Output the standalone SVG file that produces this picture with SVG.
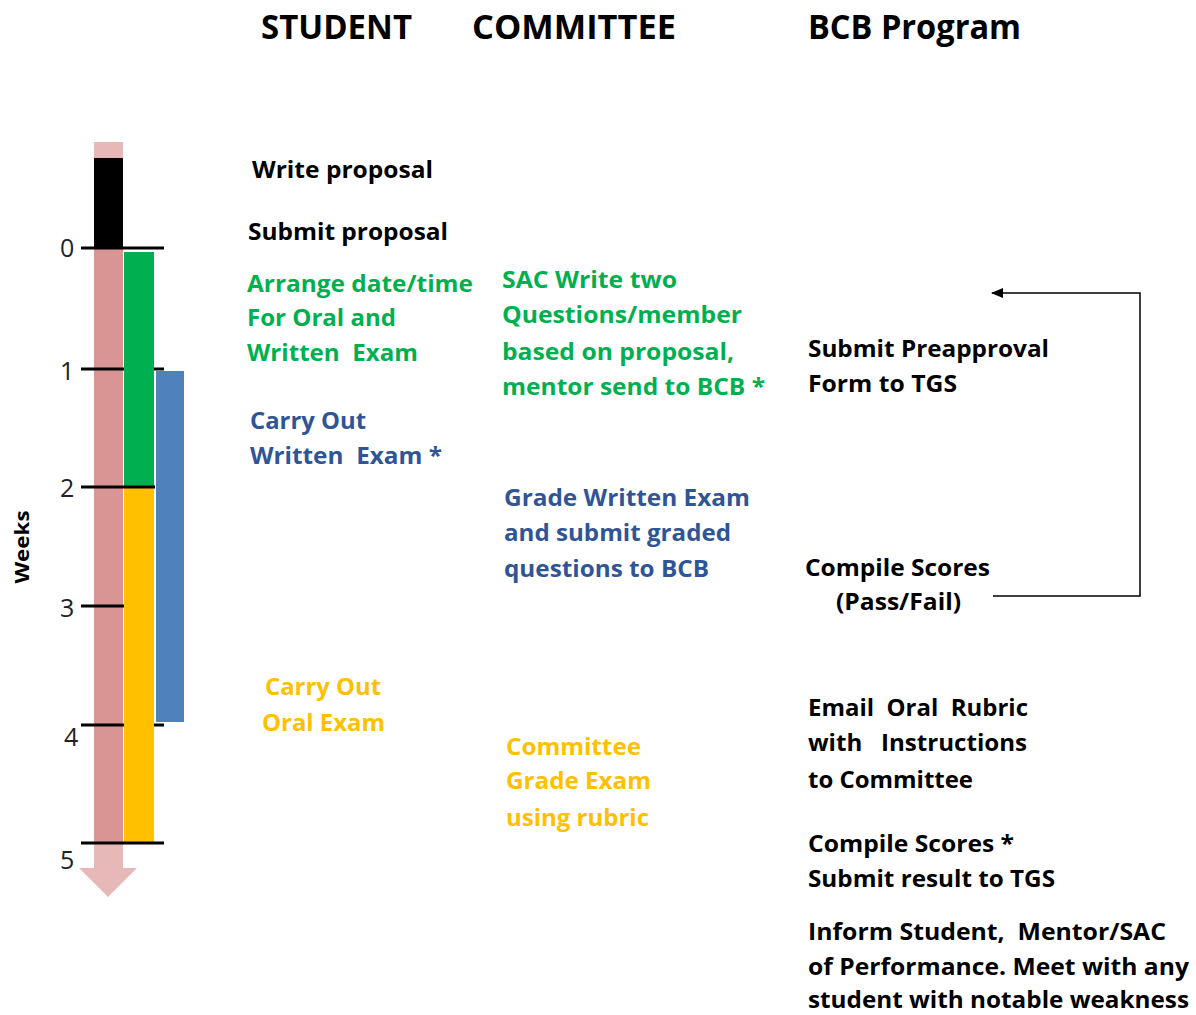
<svg xmlns="http://www.w3.org/2000/svg" width="1196" height="1015" viewBox="0 0 1196 1015">
<style>
text{font-family:"Open Sans","Liberation Sans",sans-serif;font-weight:bold;white-space:pre}
.h{font-size:34px}
.t{font-size:23.5px}
.k{fill:#000}
.g{fill:#00B050}
.b{fill:#2F5597}
.y{fill:#FFC000}
.num{font-weight:normal;font-size:25px;fill:#222}
.tick{stroke:#000;stroke-width:3}
</style>
<defs>
<marker id="ah" markerWidth="12" markerHeight="10" refX="11" refY="5" orient="auto" markerUnits="userSpaceOnUse">
<path d="M0,0 L12,5 L0,10 z" fill="#000"/>
</marker>
</defs>
<rect width="1196" height="1015" fill="#fff"/>
<g id="headers">
<text class="h k" x="261" y="39" textLength="151" lengthAdjust="spacingAndGlyphs">STUDENT</text>
<text class="h k" x="472" y="39" textLength="204" lengthAdjust="spacingAndGlyphs">COMMITTEE</text>
<text class="h k" x="808" y="39" textLength="213" lengthAdjust="spacingAndGlyphs">BCB Program</text>
</g>
<g id="timeline">
<rect x="94" y="142" width="29" height="726" fill="#E6B8B7"/>
<path d="M79,868 H137 L108,897 Z" fill="#E6B8B7"/>
<rect x="94" y="248" width="29" height="595" fill="#D99594"/>
<rect x="94" y="158" width="29" height="90" fill="#000"/>
<rect x="124" y="252" width="30" height="235" fill="#00B050"/>
<rect x="124" y="487" width="30" height="356" fill="#FFC000"/>
<rect x="156" y="371" width="28" height="351" fill="#4F81BD"/>
<line class="tick" x1="81" y1="248" x2="164" y2="248"/>
<line class="tick" x1="81" y1="369" x2="124" y2="369"/>
<line class="tick" x1="154" y1="369" x2="164" y2="369"/>
<line class="tick" x1="81" y1="487" x2="155" y2="487"/>
<line class="tick" x1="81" y1="606" x2="124" y2="606"/>
<line class="tick" x1="81" y1="725" x2="124" y2="725"/>
<line class="tick" x1="154" y1="725" x2="164" y2="725"/>
<line class="tick" x1="81" y1="843" x2="164" y2="843"/>
<text class="num" x="60" y="257">0</text>
<text class="num" x="60" y="380">1</text>
<text class="num" x="60" y="497">2</text>
<text class="num" x="60" y="617">3</text>
<text class="num" x="64" y="746">4</text>
<text class="num" x="60" y="869">5</text>
<text x="0" y="0" font-size="20" fill="#000" transform="translate(29,547) rotate(-90)" text-anchor="middle" textLength="73" lengthAdjust="spacingAndGlyphs">Weeks</text>
</g>
<g id="student">
<g id="n-write-proposal"><text class="t k" x="252" y="178" textLength="181" lengthAdjust="spacingAndGlyphs">Write proposal</text></g>
<g id="n-submit-proposal"><text class="t k" x="248" y="240" textLength="200" lengthAdjust="spacingAndGlyphs">Submit proposal</text></g>
<g id="n-arrange">
<text class="t g" x="247" y="292" textLength="226" lengthAdjust="spacingAndGlyphs">Arrange date/time</text>
<text class="t g" x="247" y="326" textLength="149" lengthAdjust="spacingAndGlyphs">For Oral and</text>
<text class="t g" x="247" y="361" textLength="171" lengthAdjust="spacingAndGlyphs">Written  Exam</text>
</g>
<g id="n-written-exam">
<text class="t b" x="250" y="429" textLength="116" lengthAdjust="spacingAndGlyphs">Carry Out</text>
<text class="t b" x="250" y="464" textLength="192" lengthAdjust="spacingAndGlyphs">Written  Exam *</text>
</g>
<g id="n-oral-exam">
<text class="t y" x="265" y="695" textLength="116" lengthAdjust="spacingAndGlyphs">Carry Out</text>
<text class="t y" x="262" y="731" textLength="123" lengthAdjust="spacingAndGlyphs">Oral Exam</text>
</g>
</g>
<g id="committee">
<g id="n-sac-write">
<text class="t g" x="502" y="288" textLength="175" lengthAdjust="spacingAndGlyphs">SAC Write two</text>
<text class="t g" x="502" y="323" textLength="240" lengthAdjust="spacingAndGlyphs">Questions/member</text>
<text class="t g" x="502" y="360" textLength="232" lengthAdjust="spacingAndGlyphs">based on proposal,</text>
<text class="t g" x="502" y="395" textLength="263" lengthAdjust="spacingAndGlyphs">mentor send to BCB *</text>
</g>
<g id="n-grade-written">
<text class="t b" x="504" y="506" textLength="246" lengthAdjust="spacingAndGlyphs">Grade Written Exam</text>
<text class="t b" x="504" y="541" textLength="227" lengthAdjust="spacingAndGlyphs">and submit graded</text>
<text class="t b" x="504" y="577" textLength="205" lengthAdjust="spacingAndGlyphs">questions to BCB</text>
</g>
<g id="n-grade-oral">
<text class="t y" x="506" y="755" textLength="135" lengthAdjust="spacingAndGlyphs">Committee</text>
<text class="t y" x="506" y="789" textLength="145" lengthAdjust="spacingAndGlyphs">Grade Exam</text>
<text class="t y" x="506" y="826" textLength="143" lengthAdjust="spacingAndGlyphs">using rubric</text>
</g>
</g>
<g id="bcb">
<g id="n-preapproval">
<text class="t k" x="808" y="357" textLength="241" lengthAdjust="spacingAndGlyphs">Submit Preapproval</text>
<text class="t k" x="808" y="392" textLength="149" lengthAdjust="spacingAndGlyphs">Form to TGS</text>
</g>
<g id="n-compile-pf">
<text class="t k" x="805" y="576" textLength="185" lengthAdjust="spacingAndGlyphs">Compile Scores</text>
<text class="t k" x="836" y="610" textLength="125" lengthAdjust="spacingAndGlyphs">(Pass/Fail)</text>
</g>
<g id="n-email-rubric">
<text class="t k" x="808" y="716" textLength="220" lengthAdjust="spacingAndGlyphs">Email  Oral  Rubric</text>
<text class="t k" x="808" y="751" textLength="219" lengthAdjust="spacingAndGlyphs">with   Instructions</text>
<text class="t k" x="808" y="788" textLength="165" lengthAdjust="spacingAndGlyphs">to Committee</text>
</g>
<g id="n-compile-submit">
<text class="t k" x="808" y="852" textLength="206" lengthAdjust="spacingAndGlyphs">Compile Scores *</text>
<text class="t k" x="808" y="887" textLength="247" lengthAdjust="spacingAndGlyphs">Submit result to TGS</text>
</g>
<g id="n-inform">
<text class="t k" x="808" y="940" textLength="358" lengthAdjust="spacingAndGlyphs">Inform Student,  Mentor/SAC</text>
<text class="t k" x="808" y="975" textLength="381" lengthAdjust="spacingAndGlyphs">of Performance. Meet with any</text>
<text class="t k" x="808" y="1008" textLength="381" lengthAdjust="spacingAndGlyphs">student with notable weakness</text>
</g>
</g>
<g id="connectors">
<path d="M993,596 H1140 V293 H992" fill="none" stroke="#000" stroke-width="1.5" marker-end="url(#ah)"/>
</g>
</svg>
